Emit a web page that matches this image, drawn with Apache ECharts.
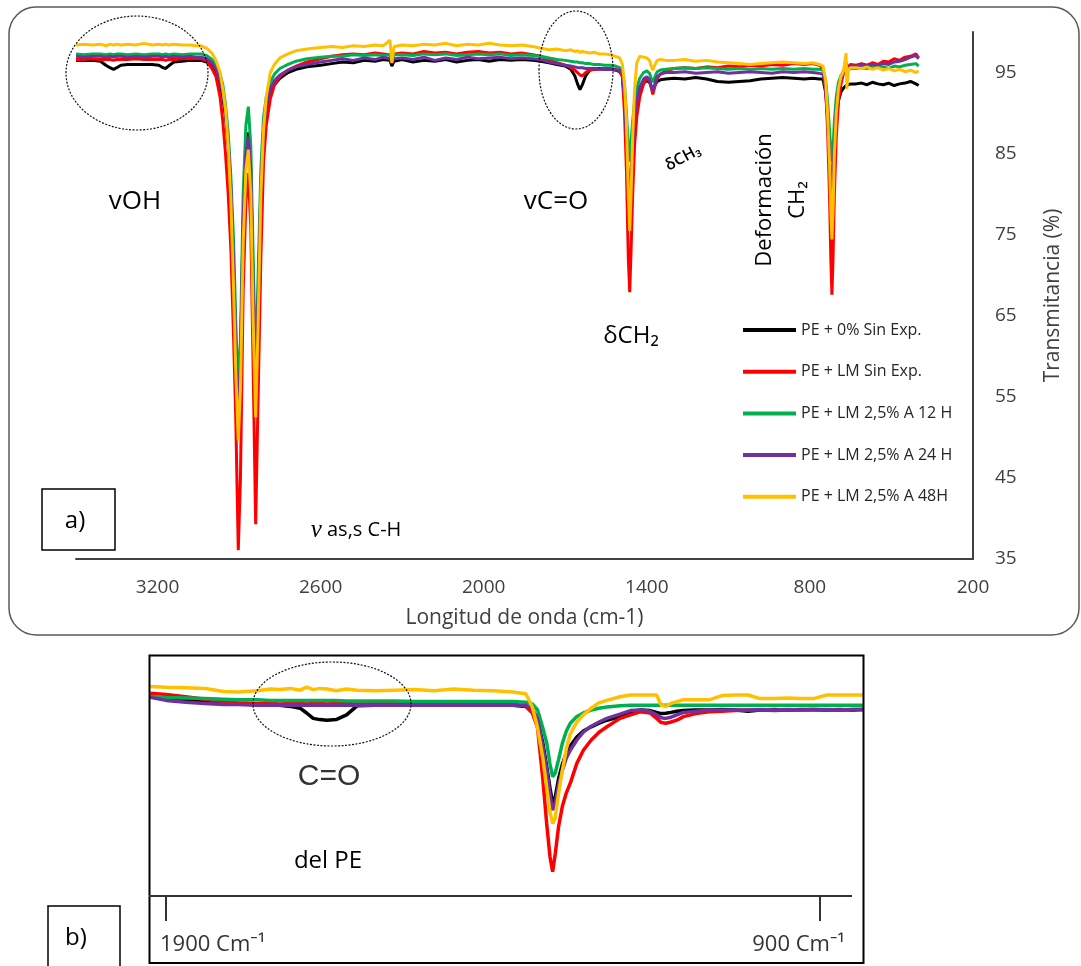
<!DOCTYPE html>
<html><head><meta charset="utf-8">
<script src="https://cdn.jsdelivr.net/npm/echarts@6/dist/echarts.min.js"></script>
<style>html,body{margin:0;padding:0;background:#fff}#c{width:1081px;height:966px}</style>
</head><body><div id="c"></div>
<script>
// ---------- DATA ----------
const seriesNames = ['PE + 0% Sin Exp.', 'PE + LM Sin Exp.', 'PE + LM 2,5% A 12 H', 'PE + LM 2,5% A 24 H', 'PE + LM 2,5% A 48H'];
const xLabelsA = [3200, 2600, 2000, 1400, 800, 200];
const yLabelsA = [35, 45, 55, 65, 75, 85, 95];
const tickLabelsB = [1900, 900];

// panel a wavenumbers (cm-1)
const wnA = [
  3500, 3470, 3440, 3410, 3390, 3375, 3362, 3350, 3335, 3310, 3280, 3250, 3220, 3195, 3180, 3170, 3160, 3140, 3110, 3080, 3060,
  3040, 3020, 3000, 2985, 2970, 2960, 2950, 2940, 2930, 2920, 2912, 2903, 2895, 2885, 2875, 2866, 2857, 2848, 2839, 2830, 2820, 2810, 2800, 2785, 2770, 2750, 2720, 2690, 2650, 2600,
  2560, 2520, 2480, 2440, 2400, 2370, 2345, 2338, 2330, 2300, 2260, 2220, 2180, 2140, 2100, 2060, 2020, 1980, 1940, 1900, 1860, 1820, 1790,
  1760, 1730, 1700, 1680, 1665, 1655, 1646, 1637, 1625, 1610, 1595, 1575, 1555, 1535, 1515, 1500,
  1490, 1482, 1475, 1468, 1463, 1458, 1452, 1445, 1437, 1426, 1412, 1400, 1390, 1384, 1378, 1371, 1362, 1350, 1330,
  1300, 1260, 1220, 1180, 1140, 1100, 1060, 1020, 980, 940, 900, 860, 820, 790, 765,
  752, 742, 735, 728, 723, 719, 715, 710, 703, 695, 686, 676, 670, 667, 664, 658, 650,
  630, 610, 590, 570, 550, 530, 510, 490, 470, 450, 430, 410, 400
];
const blackA = [
  96.5, 96.5, 96.5, 96.4, 95.9, 95.6, 95.4, 95.6, 95.9, 96.0, 96.0, 96.0, 96.0, 95.9, 95.6, 95.5, 95.8, 96.3, 96.4, 96.5, 96.5,
  96.5, 96.3, 95.8, 95.0, 93.6, 92.0, 89.5, 86.0, 80.0, 70.5, 60.5, 53.0, 59.0, 76.5, 85.0, 87.6, 83.0, 68.0, 55.0, 66.0, 80.0, 87.5, 90.5, 92.5, 93.5, 94.3, 95.0, 95.4, 95.7, 95.9,
  96.1, 96.3, 96.2, 96.5, 96.4, 96.6, 96.5, 95.8, 96.4, 96.6, 96.3, 96.5, 96.4, 96.6, 96.3, 96.5, 96.6, 96.4, 96.6, 96.5, 96.6, 96.5, 96.4,
  96.2, 96.0, 95.8, 95.4, 94.6, 93.6, 92.9, 93.5, 94.6, 95.3, 95.4, 95.5, 95.4, 95.4, 95.3, 95.1,
  94.6, 91.5, 86.5, 81.0, 79.0, 81.5, 85.0, 88.5, 91.0, 92.8, 93.7, 94.0, 93.8, 93.3, 93.0, 93.4, 93.9, 94.1, 94.2,
  94.3, 94.2, 94.4, 94.2, 93.9, 93.8, 93.9, 94.0, 94.2, 94.3, 94.4, 94.3, 94.2, 94.3, 94.2,
  94.2, 92.5, 89.5, 84.5, 81.0, 79.0, 81.0, 85.5, 89.0, 91.5, 92.6, 93.1, 93.3, 93.4, 93.2, 93.5, 93.6,
  93.6, 93.7, 93.5, 93.8, 93.6, 93.5, 93.7, 93.4, 93.6, 93.7, 93.9, 93.6, 93.4
];
const redA = [
  96.6, 96.6, 96.7, 96.6, 96.6, 96.6, 96.5, 96.6, 96.6, 96.6, 96.7, 96.6, 96.6, 96.6, 96.6, 96.5, 96.6, 96.6, 96.7, 96.7, 96.7,
  96.7, 96.4, 95.5, 94.5, 92.0, 89.0, 85.0, 80.0, 73.0, 62.0, 52.0, 36.1, 45.0, 68.0, 79.0, 82.6, 76.0, 58.0, 39.3, 55.0, 72.0, 84.0, 88.5, 91.8, 93.5, 94.5, 95.3, 95.8, 96.3, 96.7,
  97.0, 97.2, 97.3, 97.2, 97.4, 97.3, 97.2, 96.6, 97.3, 97.4, 97.3, 97.6, 97.4, 97.5, 97.3, 97.5, 97.6, 97.4, 97.5, 97.3, 97.4, 97.2, 97.0,
  96.6, 96.2, 95.9, 95.6, 95.3, 95.0, 94.7, 94.6, 95.0, 95.3, 95.4, 95.4, 95.5, 95.5, 95.4, 95.2,
  94.5, 90.0, 83.0, 72.0, 67.9, 73.0, 80.0, 86.0, 89.5, 92.0, 93.6, 94.3, 94.0, 93.2, 92.3, 93.2, 94.3, 94.8, 95.2,
  95.5, 95.6, 95.5, 95.7, 95.6, 95.8, 95.7, 95.9, 95.8, 96.0, 95.9, 96.1, 96.0, 96.1, 95.9,
  95.5, 93.0, 88.0, 80.0, 72.0, 67.6, 72.0, 80.0, 87.0, 91.5, 93.5, 95.0, 95.6, 96.2, 95.6, 95.8, 96.0,
  95.9, 96.1, 95.9, 96.2, 96.0, 96.4, 96.3, 96.7, 96.5, 96.9, 97.0, 97.3, 96.8
];
const greenA = [
  97.3, 97.2, 97.3, 97.3, 97.2, 97.3, 97.2, 97.3, 97.3, 97.2, 97.3, 97.2, 97.3, 97.3, 97.2, 97.3, 97.2, 97.3, 97.2, 97.3, 97.3,
  97.3, 97.1, 96.6, 96.0, 94.8, 93.5, 91.0, 87.5, 82.0, 74.0, 64.0, 56.0, 62.0, 80.0, 88.5, 90.8, 86.0, 72.0, 58.0, 70.0, 83.0, 89.5, 92.0, 93.8, 94.8, 95.5, 96.0, 96.4, 96.7, 96.9,
  97.0, 97.0, 97.2, 97.1, 97.2, 97.1, 97.2, 96.7, 97.2, 97.2, 97.1, 97.3, 97.2, 97.3, 97.1, 97.2, 97.3, 97.2, 97.3, 97.1, 97.2, 97.1, 97.0,
  96.8, 96.6, 96.5, 96.4, 96.3, 96.3, 96.2, 96.2, 96.1, 96.1, 96.0, 96.0, 95.9, 95.9, 95.8, 95.6,
  95.3, 93.5, 90.0, 86.0, 84.0, 86.5, 89.0, 91.5, 93.0, 94.3, 95.0, 95.2, 94.9, 94.3, 93.8, 94.4, 95.1, 95.3, 95.4,
  95.5, 95.6, 95.5, 95.6, 95.5, 95.4, 95.5, 95.4, 95.5, 95.4, 95.5, 95.4, 95.5, 95.4, 95.4,
  95.3, 94.0, 91.5, 88.0, 85.5, 84.0, 85.5, 89.0, 92.0, 93.8, 94.6, 95.2, 95.3, 95.4, 95.3, 95.4, 95.5,
  95.5, 95.6, 95.5, 95.7, 95.6, 95.7, 95.5, 95.8, 95.7, 95.9, 96.0, 96.1, 95.8
];
const purpleA = [
  97.0, 96.9, 97.0, 97.0, 96.9, 97.0, 96.9, 97.0, 97.0, 96.9, 97.0, 96.9, 97.0, 97.0, 96.9, 97.0, 96.9, 97.0, 96.9, 97.0, 96.9,
  96.9, 96.7, 96.2, 95.4, 94.0, 92.5, 90.0, 86.5, 80.5, 71.0, 61.0, 53.0, 59.0, 77.0, 85.0, 87.1, 83.0, 68.0, 55.0, 67.0, 80.5, 88.0, 91.0, 93.0, 94.0, 94.7, 95.3, 95.7, 96.0, 96.3,
  96.5, 96.7, 96.5, 96.8, 96.6, 96.9, 96.7, 96.2, 96.7, 96.8, 96.6, 96.9, 96.5, 96.8, 96.6, 96.9, 96.7, 96.8, 96.9, 96.7, 96.8, 96.7, 96.6,
  96.3, 96.1, 95.9, 95.8, 95.7, 95.6, 95.6, 95.6, 95.5, 95.5, 95.5, 95.4, 95.4, 95.4, 95.3, 95.3,
  94.8, 92.0, 87.0, 82.0, 80.0, 82.5, 86.0, 89.5, 91.5, 93.2, 94.2, 94.5, 94.1, 93.3, 92.7, 93.5, 94.5, 94.8, 95.0,
  95.0, 95.1, 94.9, 95.0, 95.1, 94.9, 95.0, 95.1, 95.0, 94.9, 95.1, 95.0, 95.1, 95.0, 94.9,
  94.8, 93.0, 90.0, 85.0, 82.0, 80.0, 82.0, 86.5, 90.5, 93.0, 94.3, 95.2, 95.5, 95.6, 95.5, 95.7, 95.8,
  95.8, 95.9, 95.8, 96.0, 95.9, 96.1, 96.0, 96.3, 96.4, 96.6, 96.9, 97.1, 96.7
];
const yellowA = [
  98.4, 98.5, 98.4, 98.5, 98.3, 98.5, 98.4, 98.5, 98.4, 98.5, 98.4, 98.6, 98.4, 98.5, 98.4, 98.5, 98.4, 98.5, 98.4, 98.4, 98.3,
  98.3, 98.0, 97.4, 96.5, 95.0, 93.0, 90.5, 86.0, 79.0, 68.0, 58.0, 49.6, 56.0, 74.0, 83.0, 85.5, 80.0, 64.0, 52.5, 64.0, 80.0, 88.0, 92.0, 95.0, 96.0, 96.8, 97.3, 97.7, 97.9, 98.1,
  98.2, 98.1, 98.3, 98.2, 98.4, 98.3, 99.0, 96.2, 98.2, 98.4, 98.3, 98.5, 98.4, 98.6, 98.3, 98.5, 98.4, 98.6, 98.4, 98.3, 98.4, 98.2, 98.0,
  97.8, 97.9, 97.7, 97.8, 97.6, 97.7, 97.5, 97.6, 97.5, 97.4, 97.5, 97.3, 97.3, 97.2, 97.0, 96.8,
  96.0, 93.5, 89.0, 80.0, 75.5, 80.0, 87.0, 93.0, 96.2, 97.0, 96.9, 96.8, 96.5, 95.8, 95.3, 95.9, 96.5, 96.6, 96.5,
  96.5, 96.6, 96.4, 96.5, 96.3, 96.2, 96.1, 96.0, 96.1, 96.2, 96.3, 96.2, 96.1, 96.2, 96.0,
  95.8, 94.0, 90.0, 84.0, 78.0, 74.4, 78.0, 85.0, 90.0, 93.0, 94.5, 95.2, 95.3, 97.4, 93.0, 95.4, 95.6,
  95.6, 95.5, 95.7, 95.4, 95.6, 95.3, 95.5, 95.2, 95.4, 95.1, 95.3, 95.0, 95.2
];

// panel b wavenumbers (cm-1) and values read on panel b's own vertical scale
const wnB = [
  1924, 1900, 1870, 1840, 1812, 1790, 1761, 1740, 1726, 1710, 1695, 1685, 1675, 1665, 1654, 1640, 1624, 1608,
  1580, 1550, 1520, 1490, 1460, 1430, 1400, 1370, 1350,
  1340, 1332, 1324, 1318, 1313, 1309, 1305, 1300, 1294, 1288, 1282, 1272, 1262, 1250, 1238, 1226,
  1206, 1190, 1175, 1160, 1150, 1143, 1136, 1128, 1119, 1109,
  1090, 1070, 1050, 1030, 1010, 992, 970, 950, 930, 910, 890, 870, 850, 834
];
const blackB = [
  93.2, 92.9, 92.6, 92.4, 92.3, 92.1, 92.0, 91.9, 91.8, 91.6, 91.3, 90.5, 89.6, 89.4, 89.3, 89.4, 90.2, 91.7,
  91.8, 91.8, 91.8, 91.8, 91.8, 91.8, 91.8, 91.8, 91.6,
  91.0, 89.3, 85.5, 81.5, 78.0, 75.45, 76.5, 79.5, 82.0, 83.8, 85.0, 86.5, 87.5, 88.2, 88.8, 89.3,
  89.9, 90.6, 91.0, 90.9, 90.6, 90.4, 90.45, 90.6, 90.8, 90.9,
  91.0, 91.0, 91.1, 91.0, 90.8, 91.0, 91.1, 91.0, 91.1, 91.1, 91.0, 91.1, 91.0, 91.1
];
const redB = [
  93.8, 93.6, 93.2, 92.8, 92.4, 92.2, 92.1, 92.1, 92.0, 92.1, 92.1, 92.0, 92.1, 92.1, 92.0, 92.1, 92.1, 92.0,
  92.1, 92.1, 92.0, 92.1, 92.0, 91.9, 92.1, 92.0, 91.6,
  90.5, 88.0, 79.5, 72.0, 66.5, 64.05, 67.0, 71.5, 75.0, 77.2, 78.8, 82.1, 84.3, 86.0, 87.3, 88.2,
  89.6, 90.2, 90.7, 90.5, 89.6, 88.9, 88.8, 89.0, 89.3, 89.9,
  90.4, 90.7, 90.8, 90.9, 91.0, 91.0, 90.9, 91.0, 91.0, 91.0, 91.0, 91.0, 91.1, 91.1
];
const greenB = [
  93.2, 93.1, 93.0, 92.9, 92.8, 92.7, 92.7, 92.6, 92.6, 92.6, 92.6, 92.6, 92.6, 92.6, 92.6, 92.6, 92.5, 92.5,
  92.5, 92.5, 92.4, 92.4, 92.4, 92.4, 92.4, 92.4, 92.3,
  92.0, 91.0, 88.0, 85.5, 82.0, 79.9, 80.5, 82.7, 85.5, 87.5, 88.8, 89.9, 90.5, 91.0, 91.3, 91.5,
  91.7, 91.8, 91.8, 91.8, 91.8, 91.8, 91.8, 91.8, 91.8, 91.8,
  91.8, 91.8, 91.8, 91.8, 91.8, 91.8, 91.8, 91.8, 91.8, 91.8, 91.8, 91.8, 91.8, 91.8
];
const purpleB = [
  93.1, 92.6, 92.3, 92.1, 91.9, 91.9, 91.8, 91.8, 91.8, 91.8, 91.8, 91.8, 91.8, 91.8, 91.8, 91.8, 91.8, 91.8,
  91.8, 91.8, 91.8, 91.8, 91.8, 91.8, 91.8, 91.8, 91.8,
  91.2, 89.5, 85.0, 81.0, 77.0, 74.3, 75.5, 78.5, 81.0, 83.0, 84.3, 86.0, 87.3, 88.3, 89.0, 89.6,
  90.3, 90.9, 91.0, 90.8, 90.2, 89.7, 89.6, 89.8, 90.2, 90.6,
  90.8, 91.0, 91.0, 91.0, 91.0, 91.1, 91.0, 91.1, 91.0, 91.1, 91.1, 91.0, 91.1, 91.1
];
const yellowB = [
  94.9, 94.8, 94.7, 94.6, 94.1, 94.0, 94.2, 94.5, 94.4, 94.6, 94.3, 94.8, 94.4, 94.6, 94.5, 94.2, 94.5, 94.3,
  94.2, 94.3, 94.4, 94.2, 94.5, 94.3, 94.2, 94.0, 93.7,
  91.5, 88.0, 83.0, 78.0, 74.0, 72.1, 73.0, 77.0, 81.0, 84.5, 87.0, 89.0, 90.2, 91.3, 92.2, 92.6,
  93.2, 93.5, 93.5, 93.5, 93.5, 91.8, 91.6, 92.1, 92.4, 92.7,
  92.7, 92.7, 93.4, 93.5, 93.5, 92.9, 92.9, 93.0, 92.9, 92.9, 93.5, 93.5, 93.5, 93.5
];

// ---------- CHART ----------
const FONT = '"Open Sans", "Noto Sans", "DejaVu Sans", sans-serif';
const colors = ['#000000', '#FF0000', '#00B050', '#7030A0', '#FFC000'];
const valsA = [blackA, redA, greenA, purpleA, yellowA];
const valsB = [blackB, redB, greenB, purpleB, yellowB];
const pairs = (w, v) => w.map((x, i) => [x, v[i]]);

const series = [];
seriesNames.forEach((n, i) => {
  series.push({
    name: n, type: 'line', xAxisIndex: 0, yAxisIndex: 0, data: pairs(wnA, valsA[i]),
    showSymbol: false, symbol: 'none', silent: true, z: 2 + i,
    lineStyle: { width: 3, color: colors[i] }, itemStyle: { color: colors[i] }
  });
});
seriesNames.forEach((n, i) => {
  series.push({
    name: n, type: 'line', xAxisIndex: 1, yAxisIndex: 1, data: pairs(wnB, valsB[i]),
    showSymbol: false, symbol: 'none', silent: true, z: 2 + i,
    lineStyle: { width: 3.5, color: colors[i] }, itemStyle: { color: colors[i] }
  });
});

function txt(x, y, text, size, opts) {
  opts = opts || {};
  return {
    type: 'text', x: x, y: y, rotation: opts.rotation || 0, silent: true, z: 100,
    style: {
      text: text, fontSize: size, fontFamily: opts.family || FONT, fontWeight: opts.weight || 'normal',
      fill: opts.fill || '#000', align: opts.align || 'center', textAlign: opts.align || 'center',
      verticalAlign: 'middle', textVerticalAlign: 'middle', rich: opts.rich
    }
  };
}
const ellStyle = { fill: 'none', stroke: '#111', lineWidth: 1.2, lineDash: [2, 1.5] };

const option = {
  animation: false,
  backgroundColor: '#ffffff',
  textStyle: { fontFamily: FONT },
  grid: [
    { left: 76, right: 108, top: 32, bottom: 407 },
    { left: 149, right: 217, top: 656, bottom: 70 }
  ],
  xAxis: [
    {
      gridIndex: 0, type: 'value', inverse: true, min: 200, max: 3500, interval: 200,
      axisLine: { show: true, lineStyle: { color: '#404040', width: 2 } },
      axisTick: { show: false }, splitLine: { show: false },
      axisLabel: {
        formatter: v => xLabelsA.includes(v) ? String(v) : '',
        fontSize: 19, color: '#404040', margin: 19, fontFamily: FONT, showMinLabel: true, showMaxLabel: false
      },
      name: 'Longitud de onda (cm-1)', nameLocation: 'middle', nameGap: 49,
      nameTextStyle: { fontSize: 21, color: '#404040', fontFamily: FONT }
    },
    {
      gridIndex: 1, type: 'value', inverse: true, min: 833, max: 1926,
      axisLine: { show: false }, splitLine: { show: false },
      axisTick: { show: true, customValues: tickLabelsB, length: 25, lineStyle: { color: '#333', width: 2 } },
      axisLabel: { show: false }
    }
  ],
  yAxis: [
    {
      gridIndex: 0, type: 'value', position: 'right', min: 35, max: 100, interval: 5,
      axisLine: { show: true, lineStyle: { color: '#404040', width: 2 } },
      axisTick: { show: false }, splitLine: { show: false },
      axisLabel: {
        formatter: v => yLabelsA.includes(v) ? String(v) : '',
        fontSize: 19, color: '#404040', margin: 22, fontFamily: FONT
      },
      name: 'Transmitancia (%)', nameLocation: 'middle', nameGap: 70, nameRotate: 90,
      nameTextStyle: { fontSize: 21, color: '#404040', fontFamily: FONT }
    },
    { gridIndex: 1, type: 'value', min: 60, max: 100, show: false }
  ],
  legend: {
    data: seriesNames, orient: 'vertical', left: 738, top: 315, icon: 'rect',
    itemWidth: 53, itemHeight: 4, itemGap: 21.7, selectedMode: false,
    textStyle: { fontSize: 16, color: '#262626', fontFamily: FONT, lineHeight: 20 }
  },
  series: series,
  graphic: [
    { type: 'rect', silent: true, z: 100, shape: { x: 9, y: 7, width: 1070, height: 628, r: 27 }, style: { fill: 'none', stroke: '#595959', lineWidth: 1.5 } },
    { type: 'ellipse', silent: true, z: 100, shape: { cx: 137, cy: 73, rx: 71, ry: 57 }, style: ellStyle },
    { type: 'ellipse', silent: true, z: 100, shape: { cx: 576, cy: 70, rx: 37, ry: 59 }, style: ellStyle },
    txt(135, 202, 'vOH', 26),
    txt(556, 202, 'vC=O', 26),
    txt(683, 158, 'δCH₃', 16, { rotation: 28 * Math.PI / 180, weight: 600 }),
    txt(765, 200, 'Deformación', 22, { rotation: Math.PI / 2 }),
    txt(798, 200, 'CH₂', 22, { rotation: Math.PI / 2 }),
    txt(631, 336, 'δCH₂', 24),
    txt(356, 530, '{i|v} as,s C-H', 20, { rich: { i: { fontFamily: '"Liberation Serif", serif', fontStyle: 'italic', fontSize: 25 } } }),
    { type: 'rect', silent: true, z: 100, shape: { x: 42, y: 489, width: 73, height: 61 }, style: { fill: 'none', stroke: '#000', lineWidth: 1.5 } },
    txt(75, 521, 'a)', 24),
    // panel b
    { type: 'rect', silent: true, z: 100, shape: { x: 149.5, y: 655.5, width: 714, height: 307.5 }, style: { fill: 'none', stroke: '#000', lineWidth: 2 } },
    { type: 'line', silent: true, z: 100, shape: { x1: 149, y1: 896, x2: 852, y2: 896 }, style: { stroke: '#333', lineWidth: 2 } },
    { type: 'ellipse', silent: true, z: 100, shape: { cx: 332, cy: 704, rx: 79, ry: 42 }, style: ellStyle },
    txt(329, 777, 'C=O', 30, { family: '"Liberation Sans", Arial, sans-serif', fill: '#333' }),
    txt(328, 861, 'del PE', 24),
    txt(160, 945, '1900 Cm⁻¹', 22, { align: 'left', fill: '#333' }),
    txt(845, 945, '900 Cm⁻¹', 22, { align: 'right', fill: '#333' }),
    { type: 'rect', silent: true, z: 100, shape: { x: 48, y: 906, width: 72, height: 62 }, style: { fill: 'none', stroke: '#000', lineWidth: 1.5 } },
    txt(76, 938, 'b)', 24)
  ]
};

const chart = echarts.init(document.getElementById('c'), null, { renderer: 'canvas' });
chart.setOption(option);
</script></body></html>
